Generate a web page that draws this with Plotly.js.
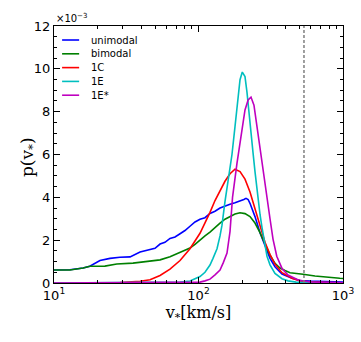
<!DOCTYPE html>
<html>
<head>
<meta charset="utf-8">
<script src="https://cdn.plot.ly/plotly-3.0.1.min.js"></script>
<style>
  html, body { margin: 0; padding: 0; background: #fff; }
  #plot { width: 361px; height: 342px; }
</style>
</head>
<body>
<div id="plot"></div>
<script>
// speeds in km/s, densities in units of 1e-3
const vUni = [10, 12.9, 15.9, 17.7, 20.8, 24.4, 28.6, 33.6, 39.4, 46.2, 50.0, 54.2, 58.6, 63.5, 68.8, 74.5, 80.6, 87.3, 94.6, 102.4, 110.9, 120.1, 130.1, 140.9, 152.5, 165.2, 178.9, 193.8, 206.0, 213.2, 220.5, 227.2, 246, 266.5, 288.5, 312.5, 338.3, 378.4, 443.8, 504.1, 591, 693, 812.8, 1000]
const pUni = [0.61, 0.62, 0.70, 0.78, 1.05, 1.15, 1.20, 1.22, 1.45, 1.57, 1.62, 1.82, 1.90, 2.08, 2.15, 2.30, 2.45, 2.65, 2.85, 2.98, 3.05, 3.25, 3.35, 3.50, 3.60, 3.68, 3.75, 3.82, 3.90, 3.95, 3.90, 3.72, 3.10, 2.35, 1.72, 1.15, 0.76, 0.42, 0.22, 0.12, 0.09, 0.07, 0.06, 0.05]

const vBi = [10, 12.9, 15.9, 17.7, 22.5, 27.2, 35.2, 46.2, 54.2, 63.5, 74.5, 87.3, 94.6, 102.4, 110.9, 120.1, 130.1, 140.9, 152.5, 165.2, 178.9, 193.8, 209.8, 227.2, 246, 266.5, 288.5, 312.5, 338.3, 366.4, 396.8, 429.8, 529, 640, 950, 1000]
const pBi = [0.61, 0.61, 0.70, 0.78, 0.79, 0.89, 0.93, 1.03, 1.08, 1.23, 1.42, 1.63, 1.80, 2.01, 2.20, 2.38, 2.60, 2.80, 2.98, 3.12, 3.22, 3.28, 3.24, 3.10, 2.80, 2.35, 1.80, 1.30, 0.92, 0.70, 0.58, 0.48, 0.41, 0.33, 0.22, 0.21]

const v1C = [10, 20.8, 28.6, 39.4, 46.2, 54.2, 63.5, 74.5, 87.3, 102.4, 110.9, 120.1, 130.1, 140.9, 152.5, 165.2, 178.9, 193.8, 209.8, 227.2, 246, 266.5, 288.5, 312.5, 338.3, 378.4, 443.8, 504.1, 591, 812.8, 1000]
const p1C = [0, 0.005, 0.02, 0.08, 0.15, 0.35, 0.65, 1.05, 1.60, 2.32, 2.80, 3.30, 3.85, 4.30, 4.75, 5.10, 5.31, 5.20, 4.85, 4.25, 3.45, 2.65, 1.90, 1.33, 0.88, 0.48, 0.22, 0.10, 0.05, 0.02, 0.01]

const v1E = [10, 46.2, 63.5, 74.5, 87.3, 102.4, 110.9, 120.1, 126.0, 134.3, 140.9, 145.4, 152.5, 157.5, 165.2, 170.5, 178.9, 184.7, 193.8, 201, 209.8, 216.6, 224.7, 230.8, 238.3, 246, 254.0, 266.5, 275.0, 288.5, 297.9, 312.5, 338.3, 378.4, 416.4, 472.9, 591, 1000]
const p1E = [0, 0.005, 0.02, 0.04, 0.09, 0.30, 0.50, 0.84, 1.15, 1.60, 2.20, 2.70, 3.80, 4.50, 5.28, 6.00, 7.30, 8.20, 9.49, 9.85, 9.64, 8.90, 7.93, 7.00, 6.10, 5.20, 4.30, 3.20, 2.60, 1.70, 1.25, 0.85, 0.45, 0.20, 0.10, 0.04, 0.01, 0]

const v1Es = [10, 74.5, 94.6, 102.4, 110.9, 120.1, 130.1, 140.9, 148.5, 157.5, 165.2, 172.0, 184.7, 193.8, 209.8, 220.5, 230.8, 242.0, 250.0, 266.5, 288.5, 312.5, 327.8, 348.0, 378.4, 416.4, 490, 591, 812.8, 1000]
const p1Es = [0, 0.005, 0.02, 0.04, 0.10, 0.18, 0.38, 0.60, 0.95, 1.40, 2.40, 4.00, 5.60, 6.60, 8.08, 8.55, 8.68, 8.30, 7.62, 6.10, 4.50, 3.00, 2.05, 1.25, 0.68, 0.37, 0.14, 0.05, 0.02, 0.01]

const vEsc = 537
const names = ['unimodal', 'bimodal', '1C', '1E', '1E*']
const colors = ['#0000ff', '#008000', '#ff0000', '#00bfbf', '#bf00bf']
const xTicks = [10, 100, 1000]
const xTickText = ['10<sup>1</sup>', '10<sup>2</sup>', '10<sup>3</sup>']
const yTicks = [0, 2, 4, 6, 8, 10, 12]

const xs = [vUni, vBi, v1C, v1E, v1Es]
const ys = [pUni, pBi, p1C, p1E, p1Es]

var data = names.map((n, i) => ({
  x: xs[i], y: ys[i], name: n, type: 'scatter', mode: 'lines',
  line: { color: colors[i], width: 1.6 }
}))
data.push({
  x: [vEsc, vEsc], y: [0, 12], type: 'scatter', mode: 'lines',
  line: { color: '#808080', width: 1.5, dash: '3px,2px' }
})

// hand-made legend, matplotlib style (tighter rows than plotly's)
var shapes = []
var annotations = [
  {
    text: '×10<sup>−3</sup>', xref: 'paper', yref: 'paper', x: 0, y: 1,
    xanchor: 'left', yanchor: 'bottom', showarrow: false, font: { size: 10 }
  },
  {
    // y title as annotation so it can sit closer to the tick labels
    text: 'p(v<sub>*</sub>)', xref: 'paper', yref: 'paper', x: -0.09, y: 0.49,
    xanchor: 'center', yanchor: 'middle', textangle: -90, showarrow: false,
    font: { family: 'DejaVu Serif, serif', size: 17 }
  }
]
names.forEach((n, i) => {
  var yy = 0.9455 - i * 0.0537
  shapes.push({
    type: 'line', xref: 'paper', yref: 'paper', x0: 0.028, x1: 0.087, y0: yy, y1: yy,
    line: { color: colors[i], width: 1.6 }
  })
  annotations.push({
    text: n, xref: 'paper', yref: 'paper', x: 0.122, y: yy,
    xanchor: 'left', yanchor: 'middle', showarrow: false, font: { size: 10 }
  })
})

var layout = {
  width: 361,
  height: 342,
  margin: { l: 54, r: 18, t: 26, b: 59 },
  paper_bgcolor: '#fff',
  plot_bgcolor: '#fff',
  font: { family: 'DejaVu Sans, sans-serif', size: 12, color: '#000' },
  showlegend: false,
  xaxis: {
    type: 'log', range: [1, 3],
    tickvals: xTicks, ticktext: xTickText,
    ticks: 'inside', ticklen: 6, tickcolor: '#000', mirror: 'allticks',
    showline: true, linecolor: '#000', linewidth: 1.2,
    showgrid: false, zeroline: false,
    tickfont: { size: 13 },
    minor: { ticks: 'inside', ticklen: 3, tickcolor: '#000', dtick: 'D1', showgrid: false },
    title: { text: 'v<sub>*</sub>[km/s]', font: { family: 'DejaVu Serif, serif', size: 16 }, standoff: 4 }
  },
  yaxis: {
    range: [0, 12],
    tickvals: yTicks,
    ticks: 'inside', ticklen: 6, tickcolor: '#000', mirror: 'allticks',
    showline: true, linecolor: '#000', linewidth: 1.2,
    showgrid: false, zeroline: false,
    tickfont: { size: 13 },
    minor: { ticks: 'inside', ticklen: 3, tickcolor: '#000', dtick: 0.5, showgrid: false }
  },
  shapes: shapes,
  annotations: annotations
}

Plotly.newPlot('plot', data, layout, { staticPlot: true })
</script>
</body>
</html>
